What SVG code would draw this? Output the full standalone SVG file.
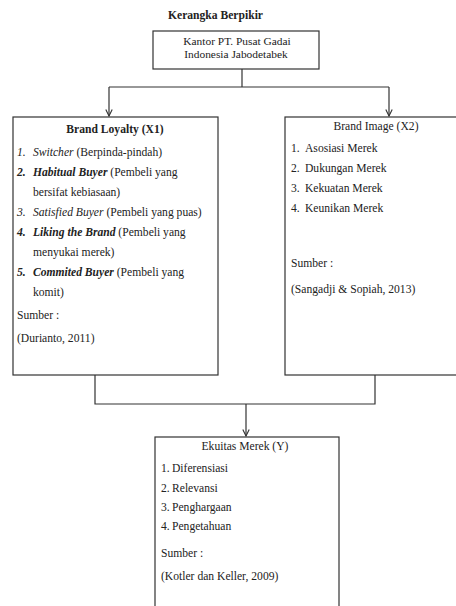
<svg xmlns="http://www.w3.org/2000/svg" width="456" height="606" viewBox="0 0 456 606">
<style>
text{font-family:"Liberation Serif","Times New Roman",serif;font-size:11.6px;fill:#222}
.k{font-size:11.4px}
.b{font-weight:bold}
.i{font-style:italic}
.bi{font-style:italic;font-weight:bold}
.box{fill:#fff;stroke:#333;stroke-width:1.2}
.ln{fill:none;stroke:#333;stroke-width:1.2}
</style>
<defs>
<marker id="ah" viewBox="0 0 10 10" refX="9" refY="5" markerWidth="8" markerHeight="8" orient="auto" markerUnits="userSpaceOnUse">
<path d="M1,1 L9,5 L1,9" fill="none" stroke="#333" stroke-width="1.4"/>
</marker>
</defs>
<rect width="456" height="606" fill="#fff"/>
<text x="168" y="19" class="b">Kerangka Berpikir</text>
<g id="connectors">
<path class="ln" d="M242,69 V87"/>
<path class="ln" d="M109,87 H389"/>
<path class="ln" d="M109,87 V116" marker-end="url(#ah)"/>
<path class="ln" d="M389,87 V116" marker-end="url(#ah)"/>
<path class="ln" d="M95,375 V404 H375 V375"/>
<path class="ln" d="M246,404 V436" marker-end="url(#ah)"/>
</g>
<g id="kantor">
<rect class="box" x="153" y="31" width="166" height="38"/>
<text x="237" y="45" text-anchor="middle" class="k">Kantor PT. Pusat Gadai</text>
<text x="236" y="58" text-anchor="middle" class="k">Indonesia Jabodetabek</text>
</g>
<g id="brand-loyalty">
<rect class="box" x="13" y="117" width="205" height="258"/>
<text x="115" y="133" text-anchor="middle" class="b">Brand Loyalty (X1)</text>
<text x="17" y="156" class="i">1.</text><text x="33" y="156"><tspan class="i">Switcher</tspan> (Berpinda-pindah)</text>
<text x="17" y="176" class="bi">2.</text><text x="33" y="176"><tspan class="bi">Habitual Buyer</tspan> (Pembeli yang</text>
<text x="33" y="196">bersifat kebiasaan)</text>
<text x="17" y="216" class="i">3.</text><text x="33" y="216"><tspan class="i">Satisfied Buyer</tspan> (Pembeli yang puas)</text>
<text x="17" y="236" class="bi">4.</text><text x="33" y="236"><tspan class="bi">Liking the Brand</tspan> (Pembeli yang</text>
<text x="33" y="256">menyukai merek)</text>
<text x="17" y="276" class="bi">5.</text><text x="33" y="276"><tspan class="bi">Commited Buyer</tspan> (Pembeli yang</text>
<text x="33" y="296">komit)</text>
<text x="17" y="319">Sumber :</text>
<text x="17" y="342">(Durianto, 2011)</text>
</g>
<g id="brand-image">
<rect class="box" x="285" y="117" width="180" height="258"/>
<text x="376" y="130" text-anchor="middle">Brand Image (X2)</text>
<text x="291" y="152">1.</text><text x="305" y="152">Asosiasi Merek</text>
<text x="291" y="172">2.</text><text x="305" y="172">Dukungan Merek</text>
<text x="291" y="192">3.</text><text x="305" y="192">Kekuatan Merek</text>
<text x="291" y="212">4.</text><text x="305" y="212">Keunikan Merek</text>
<text x="291" y="267">Sumber :</text>
<text x="291" y="293">(Sangadji &amp; Sopiah, 2013)</text>
</g>
<g id="ekuitas-merek">
<rect class="box" x="155" y="437" width="184" height="180"/>
<text x="245" y="450" text-anchor="middle">Ekuitas Merek (Y)</text>
<text x="161" y="472">1.</text><text x="172" y="472">Diferensiasi</text>
<text x="161" y="492">2.</text><text x="172" y="492">Relevansi</text>
<text x="161" y="511">3.</text><text x="172" y="511">Penghargaan</text>
<text x="161" y="530">4.</text><text x="172" y="530">Pengetahuan</text>
<text x="161" y="557">Sumber :</text>
<text x="161" y="580">(Kotler dan Keller, 2009)</text>
</g>
</svg>
